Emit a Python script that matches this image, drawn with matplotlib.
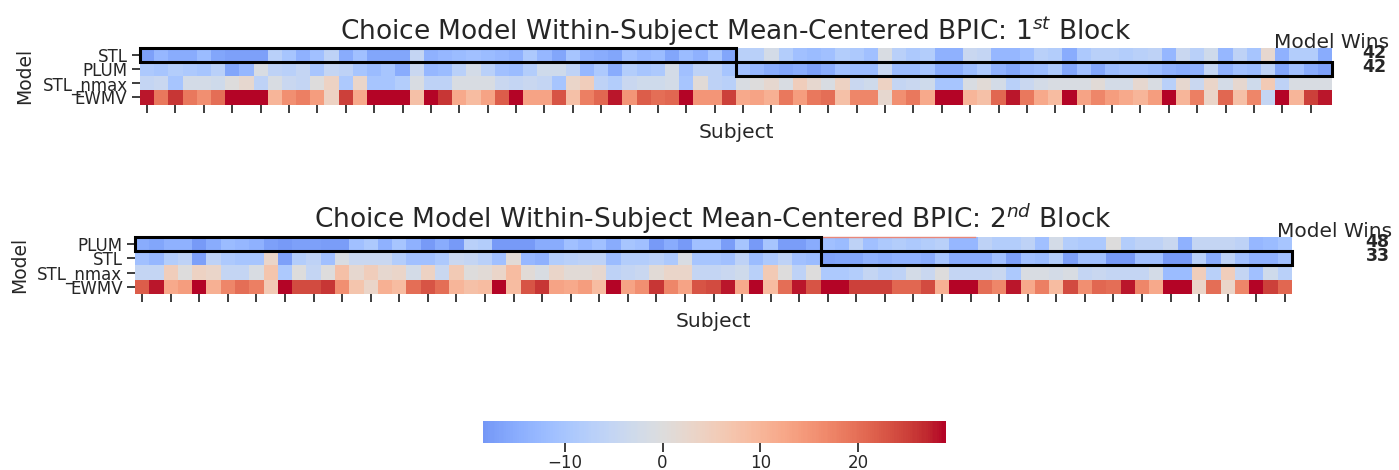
import numpy as np
import matplotlib
matplotlib.use("Agg")
import matplotlib.pyplot as plt
from matplotlib.colors import ListedColormap, Normalize
from matplotlib.patches import Rectangle

# ---- data: within-subject mean-centered BPIC, one value per subject ----
rows_1 = ["STL", "PLUM", "STL_nmax", "EWMV"]
stl_1 = [-17, -13, -15, -15, -12, -16, -17, -17, -17, -7, -10, -14, -11, -6, -15, -11, -16, -16, -16, -5, -14, -13, -12, -11, -12, -13, -14, -9,
         -13, -16, -10, -14, -15, -16, -11, -13, -12, -16, -12, -14, -10, -16, -7, -7, -2, -8, -11, -12, -11, -8, -9, -11, -1, -7, -9, -8,
         -14, -14, -4, -5, -13, -13, -11, -7, -8, -15, -9, -7, -7, -8, -7, -6, -13, -4, -7, -3, -13, -6, -10, 2, -14, -8, -8, -15]
plum_1 = [-9, -10, -8, -9, -10, -7, -16, -13, -1, -6, -7, -5, -10, -5, -6, -10, -12, -10, -15, -4, -13, -12, -7, -2, -7, -11, -12, -8,
          -3, -3, -6, -13, -9, -15, -8, -10, -9, -2, -11, -6, -6, -10, -11, -13, -15, -16, -15, -17, -15, -11, -12, -12, -4, -12, -12, -10,
          -15, -15, -12, -9, -14, -16, -13, -12, -9, -16, -11, -16, -12, -11, -11, -12, -14, -15, -14, -5, -14, -11, -12, -6, -16, -11, -15, -17]
nmax_1 = [-5, -4, -10, -2, -2, -3, 0, 2, -6, -1, -4, -5, 0, 4, -9, 3, -10, -10, -8, -1, -6, -6, -1, -1, -1, -4, -5, -4,
          -5, -10, 3, 5, -6, -8, -4, -3, -3, -2, -10, 1, -6, -7, -1, 0, 2, -1, 5, 2, -1, 4, -4, -3, 4, -5, -4, -3,
          -10, -10, -1, 1, -2, -7, -4, -2, -1, -1, -1, 1, -2, -2, 2, -1, -7, 2, -4, 3, -2, 2, -3, 6, -6, -1, -1, -1]
ewmv_1 = [28, 19, 26, 19, 16, 20, 29, 29, 29, 10, 16, 18, 14, 4, 25, 12, 29, 29, 29, 8, 29, 26, 12, 9, 13, 22, 29, 13,
          13, 23, 8, 18, 21, 28, 15, 22, 20, 21, 29, 15, 15, 25, 12, 13, 11, 19, 14, 19, 20, 8, 17, 17, 2, 16, 19, 12,
          29, 29, 10, 8, 21, 28, 19, 12, 9, 29, 13, 17, 14, 12, 10, 14, 29, 10, 18, 3, 21, 8, 17, -5, 29, 10, 25, 28]
wins_1 = [42, 42]

rows_2 = ["PLUM", "STL", "STL_nmax", "EWMV"]
plum_2 = [-15, -16, -14, -14, -18, -15, -12, -13, -14, -17, -18, -17, -17, -17.5, -17.5, -11, -9, -14, -10, -14, -18, -15, -18,
          -7, -8, -18, -18, -18, -15, -15, -11, -13, -11, -15, -10, -11, -18, -15, -18, -11, -11,
          -17.5, -10, -18, -10, -17.5, -17.5, -15,
          -11, -12, -6, -11, -9, -8, -9,
          -8, -7, -13, -13, -6, -8, -8, -6, -11, -2, -8, -9, -9, 0, -8, -6, -6, -4, -14, -5, -5, -5, -6, -13, -12, -10]
stl_2 = [-11, -13, -8, -6, -17, -6, -9, -10, -10, 3, -17, -8, -6, -11, -1, -4, -4, -4, -8, -11, -11, -9, -4,
         -5, -7, -11, 1, -13, -14, -8, -7, -6, -6, -12, -8, -8, -7, -9, -1, -10, -10,
         -11, -6, -12, -9, -6, -11, -12,
         -16.5, -16, -16, -14, -15, -14, -14,
         -15, -10, -15, -15, -15, -11, -17, -11, -12, -8, -17, -11, -11, -18, -18, -11, -11, -18, -18, -7, -15, -6, -11, -14, -14, -11]
nmax_2 = [-5, -5, 5, 0, 4, 3, -5, -5, -1, 7, -9, 0, -5, 0, 8, 2, 5, 2, 3, -2, 4, -4, 6,
          0, 1, 3, 9, 1, -1, 3, 1, 1, 2, -6, -5, -4, 1, 3, 3, -5, -5,
          -4, -3, -7, 6, 0, -6, 0,
          -9, -9, -8, -5, -7, -6, -2,
          -4, 0, -5, -5, -5, -4, -9, -1, -1, -2, -1, -5, -4, -5, -5, -5, -2, -12, -12, 5, -7, 5, -5, -11, -3, -7]
ewmv_2 = [22, 28, 12, 14, 29, 11, 17, 20, 18, 6, 29, 24, 24, 26, 16, 7, 3, 11, 9, 20, 23, 20, 10,
          8, 9, 29, 9, 23, 26, 13, 12, 14, 9, 29, 13, 16, 26, 17, 13, 23, 24,
          28, 12, 29, 9, 20, 28, 23,
          29, 29, 25, 25, 25, 21, 21,
          24, 11, 29, 29, 20, 17, 28, 12, 18, 9, 24, 16, 21, 20, 28, 17, 12, 29, 29, 3, 20, 3, 17, 29, 25, 21]
wins_2 = [48, 33]

vmin, vmax = -18.4, 29.0

# seaborn-style centered colormap (center = 0)
vr = max(abs(vmin), abs(vmax))
lo, hi = (vmin + vr) / (2 * vr), (vmax + vr) / (2 * vr)
cmap = ListedColormap(plt.get_cmap("coolwarm")(np.linspace(lo, hi, 256)))
norm = Normalize(vmin=vmin, vmax=vmax)

TXT = "#262626"
W, H = 1399, 470
fig = plt.figure(figsize=(W / 100, H / 100), dpi=100)


def px_axes(l, t, r, b):
    return fig.add_axes([l / W, 1 - b / H, (r - l) / W, (b - t) / H])


def draw_block(ax, data, rows, wins, title):
    n = data.shape[1]
    mesh = ax.pcolormesh(data, cmap=cmap, norm=norm, edgecolors="none")
    ax.set_xlim(0, n)
    ax.set_ylim(len(rows), 0)
    for s in ax.spines.values():
        s.set_visible(False)
    ax.set_xticks(np.arange(0.5, n, 2))
    ax.set_xticklabels([])
    ax.set_yticks(np.arange(len(rows)) + 0.5)
    ax.set_yticklabels(rows, fontsize=12, color=TXT)
    ax.tick_params(axis="both", length=6, width=1.25, color=TXT, pad=3)
    ax.set_xlabel("Subject", fontsize=14.5, color=TXT, labelpad=4)
    ax.set_ylabel("Model", fontsize=13.5, color=TXT, labelpad=6)
    ax.set_title(title, fontsize=19, color=TXT, pad=6)
    # outline the winning model for each run of subjects
    ax.add_patch(Rectangle((0, 0), wins[0], 1, fill=False, ec="black", lw=2.2, clip_on=False, zorder=3))
    ax.add_patch(Rectangle((wins[0], 1), wins[1], 1, fill=False, ec="black", lw=2.2, clip_on=False, zorder=3))
    ax.text(84, 0, "Model Wins", ha="center", va="baseline", fontsize=14.5, color=TXT)
    for i, w in enumerate(wins):
        ax.text(87, i + 0.35, str(w), ha="center", va="center", fontsize=12.5,
                fontweight="bold", color=TXT)
    return mesh


ax1 = px_axes(140, 48.3, 1332, 104.5)
draw_block(ax1, np.array([stl_1, plum_1, nmax_1, ewmv_1]), rows_1, wins_1,
           r"Choice Model Within-Subject Mean-Centered BPIC: 1$^{st}$ Block")

ax2 = px_axes(135, 236.7, 1292, 294)
mesh = draw_block(ax2, np.array([plum_2, stl_2, nmax_2, ewmv_2]), rows_2, wins_2,
                  r"Choice Model Within-Subject Mean-Centered BPIC: 2$^{nd}$ Block")
ax2.plot([25.35, 58.8], [0, 0], color="#e8877a", lw=1, clip_on=False, zorder=2)

cax = px_axes(482.7, 420.7, 946, 443.3)
cb = fig.colorbar(mesh, cax=cax, orientation="horizontal")
cb.outline.set_linewidth(0)
cb.set_ticks([-10, 0, 10, 20])
cax.tick_params(length=6.5, width=1.25, color=TXT, labelsize=12, labelcolor=TXT, pad=1.5)

fig.savefig("out.png", dpi=100)
